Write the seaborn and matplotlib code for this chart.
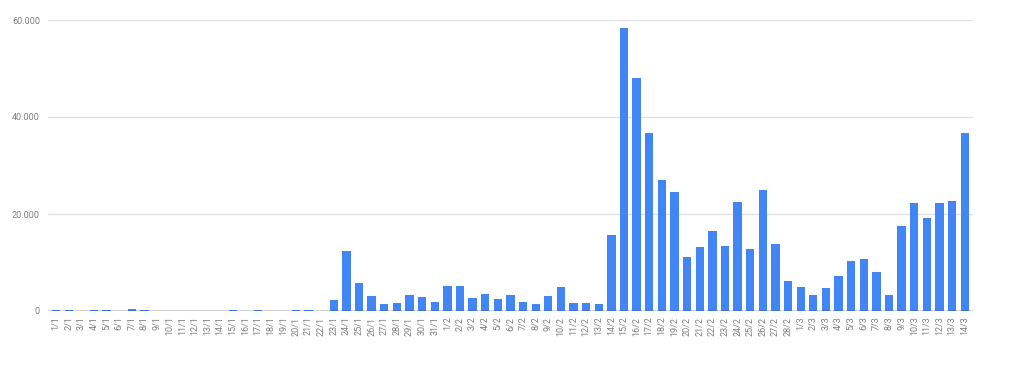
import pandas as pd
import matplotlib
matplotlib.use("Agg")
import matplotlib.pyplot as plt
import seaborn as sns
from matplotlib.ticker import FuncFormatter

# daily values, 1 Jan - 14 Mar
jan = [200, 200, 50, 200, 200, 50, 400, 200, 50, 50, 50, 50, 50, 50, 200, 50,
       200, 50, 50, 200, 200, 50, 2300, 12300, 5800, 3000, 1400, 1650, 3350,
       2900, 1850]
feb = [5200, 5200, 2700, 3500, 2550, 3250, 1850, 1450, 3100, 4950, 1700, 1600,
       1450, 15600, 58400, 48000, 36700, 27100, 24500, 11100, 13100, 16500,
       13500, 22500, 12850, 25050, 13900, 6100]
mar = [4900, 3350, 4700, 7200, 10300, 10700, 8050, 3350, 17500, 22300, 19100,
       22200, 22700, 36700]

labels = ([f"{d}/1" for d in range(1, 32)] + [f"{d}/2" for d in range(1, 29)]
          + [f"{d}/3" for d in range(1, 15)])
df = pd.DataFrame({"day": labels, "value": jan + feb + mar})

sns.set_theme(style="white")
plt.rcParams["font.family"] = ["Roboto", "DejaVu Sans"]

fig = plt.figure(figsize=(10.24, 3.68), dpi=100)
ax = fig.add_axes([48.3 / 1024, 1 - 311 / 368, (972.7 - 48.3) / 1024, 291 / 368])

sns.barplot(data=df, x="day", y="value", color="#4285F4", saturation=1,
            width=0.66, linewidth=0, ax=ax, zorder=3)

ax.set_ylim(0, 60000)
ax.set_xlim(-0.62, 72.63)
ax.set_yticks([0, 20000, 40000, 60000])
ax.yaxis.set_major_formatter(FuncFormatter(lambda v, p: f"{int(v):,}".replace(",", ".")))
ax.grid(axis="y", color="#e3e3e3", linewidth=1, zorder=0)
ax.axhline(0, color="#333333", linewidth=1, zorder=4)
for s in ax.spines.values():
    s.set_visible(False)
ax.set_xlabel("")
ax.set_ylabel("")
ax.tick_params(axis="x", labelrotation=90, labelsize=6.5, colors="#808080", length=0, pad=4)
ax.tick_params(axis="y", labelsize=6.5, colors="#808080", length=0, pad=6)

fig.savefig("out.png", dpi=100)
